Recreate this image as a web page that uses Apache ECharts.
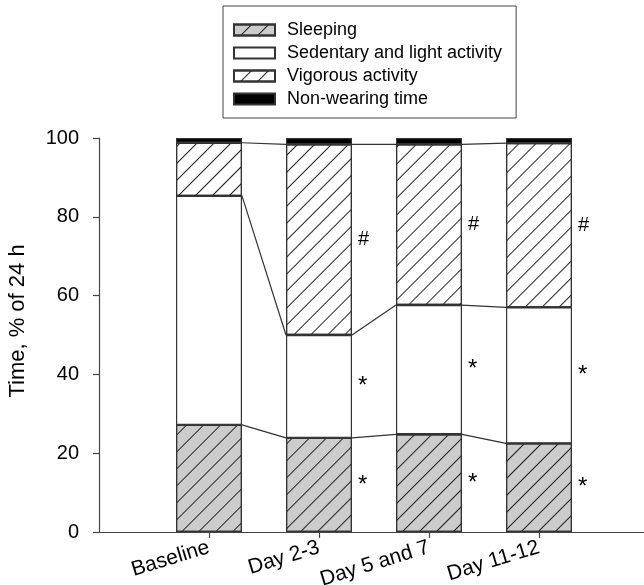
<!DOCTYPE html>
<html><head><meta charset="utf-8">
<script src="https://cdn.jsdelivr.net/npm/echarts@6/dist/echarts.min.js"></script>
<style>html,body{margin:0;padding:0;background:#fff}#c{width:644px;height:585px}</style>
</head><body><div id="c"></div>
<script>
const categories = ['Baseline', 'Day 2-3', 'Day 5 and 7', 'Day 11-12'];
const sleeping = [27.2, 23.9, 24.8, 22.5];
const sedentary = [58.1, 26.1, 32.8, 34.5];
const vigorous = [13.5, 48.4, 40.8, 41.7];
const nonWearing = [1.2, 1.6, 1.6, 1.3];
const sleepingMarks = ['', '*', '*', '*'];
const sedentaryMarks = ['', '*', '*', '*'];
const vigorousMarks = ['', '#', '#', '#'];
const seriesNames = ['Sleeping', 'Sedentary and light activity', 'Vigorous activity', 'Non-wearing time'];

const FONT = 'Liberation Sans, Arial, Helvetica, sans-serif';
const BAR_W = 66;
const GRID = {left: 99, right: -5, top: 138, bottom: 53, outerBoundsMode: 'none', containLabel: false};
const axisCats = [''].concat(categories, ['']);
const xSpan = axisCats.length - 1;
const unitPx = (644 - GRID.left - GRID.right) / xSpan;
const hw = (BAR_W / 2) / unitPx;

const hatch = {symbol: 'rect', symbolSize: 1, dashArrayX: [1, 0], dashArrayY: [1, 11], rotation: -Math.PI / 4, color: '#222'};
const border = {borderColor: '#333', borderWidth: 1.2};

function barSeries(name, values, marks, markSize, style) {
  return {
    name: name, type: 'bar', stack: 'total', barWidth: BAR_W,
    data: values.map((v, i) => [categories[i], v]),
    itemStyle: Object.assign({}, border, style),
    label: marks ? {show: true, position: 'right', distance: 6, formatter: p => marks[p.dataIndex], fontSize: markSize, color: '#000', fontFamily: FONT} : {show: false},
    emphasis: {disabled: true}, z: 2
  };
}
const lvl1 = sleeping.slice();
const lvl2 = sleeping.map((v, i) => v + sedentary[i]);
const lvl3 = lvl2.map((v, i) => v + vigorous[i]);
function connector(levels) {
  const pts = [];
  levels.forEach((v, i) => { pts.push([i + 1 - hw, v]); pts.push([i + 1 + hw, v]); });
  return {type: 'line', xAxisIndex: 1, data: pts, symbol: 'none', silent: true,
    lineStyle: {color: '#333', width: 1.2}, z: 3};
}

const chart = echarts.init(document.getElementById('c'), null, {renderer: 'canvas'});
chart.setOption({
  animation: false,
  backgroundColor: '#fff',
  textStyle: {fontFamily: FONT},
  grid: GRID,
  legend: {
    orient: 'vertical', left: 223, top: 6, data: seriesNames, icon: 'rect',
    itemWidth: 41, itemHeight: 11, itemGap: 5, padding: [15, 14, 10, 10],
    borderColor: '#444', borderWidth: 1, selectedMode: false,
    textStyle: {fontSize: 18, lineHeight: 18, color: '#000', fontFamily: FONT, padding: [0, 0, 0, 7]}
  },
  xAxis: [{
    type: 'category', data: axisCats, boundaryGap: false,
    axisLine: {lineStyle: {color: '#444', width: 1.2}},
    axisTick: {length: 6, interval: (idx, val) => val !== '', lineStyle: {color: '#444', width: 1.2}},
    axisLabel: {interval: 0, rotate: 17, margin: 15, fontSize: 21, color: '#000', fontFamily: FONT},
    splitLine: {show: false}
  }, {
    type: 'value', min: 0, max: xSpan, show: false
  }],
  yAxis: {
    type: 'value', min: 0, max: 100, interval: 20,
    name: 'Time, % of 24 h', nameLocation: 'middle', nameGap: 70,
    nameTextStyle: {fontSize: 22, color: '#000', fontFamily: FONT, padding: [0, 0, 0, 28]},
    axisLine: {show: true, lineStyle: {color: '#444', width: 1.2}},
    axisTick: {show: true, length: 6, lineStyle: {color: '#444', width: 1.2}},
    axisLabel: {fontSize: 20, margin: 20, color: '#000', fontFamily: FONT},
    splitLine: {show: false}
  },
  series: [
    barSeries(seriesNames[0], sleeping, sleepingMarks, 24, {color: '#cccccc', decal: hatch}),
    barSeries(seriesNames[1], sedentary, sedentaryMarks, 24, {color: '#ffffff'}),
    barSeries(seriesNames[2], vigorous, vigorousMarks, 20, {color: '#ffffff', decal: hatch}),
    barSeries(seriesNames[3], nonWearing, null, 0, {color: '#000000'}),
    connector(lvl1), connector(lvl2), connector(lvl3)
  ]
});
</script></body></html>
